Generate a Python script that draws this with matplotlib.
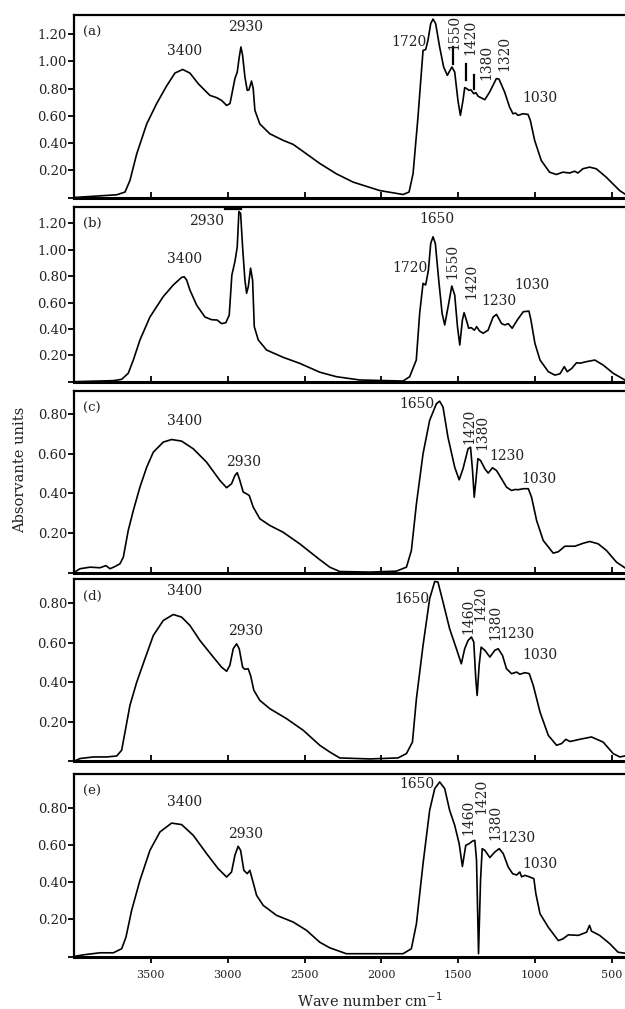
"""FTIR spectra, panels (a)-(e)."""
import matplotlib
matplotlib.use("Agg")
import matplotlib.pyplot as plt

plt.rcParams["font.family"] = "DejaVu Serif"

INK = "#222222"

# ── spectra (wavenumber cm-1, absorbance) ───────────────────────────────────
wn_a = [4000, 3722, 3668, 3636, 3592, 3527, 3462, 3397, 3343, 3293, 3246, 3192,
        3116, 3072, 3040, 3007, 2985, 2968, 2953, 2938, 2925, 2914, 2903, 2888,
        2873, 2862, 2845, 2834, 2823, 2791, 2726, 2640, 2574, 2487, 2401, 2293,
        2184, 2011, 1859, 1820, 1794, 1762, 1729, 1712, 1697, 1679, 1664, 1647,
        1621, 1595, 1571, 1556, 1541, 1523, 1502, 1486, 1469, 1458, 1446, 1430,
        1417, 1399, 1386, 1370, 1327, 1296, 1252, 1235, 1198, 1166, 1144, 1127,
        1111, 1079, 1046, 1031, 1003, 960, 906, 862, 819, 775, 743, 721, 689,
        646, 602, 537, 450, 418]
abs_a = [0.00, 0.02, 0.04, 0.125, 0.32, 0.54, 0.69, 0.82, 0.914, 0.94, 0.914, 0.836,
         0.75, 0.733, 0.713, 0.676, 0.69, 0.787, 0.873, 0.92, 1.03, 1.105, 1.044, 0.885,
         0.787, 0.79, 0.855, 0.80, 0.64, 0.54, 0.468, 0.42, 0.39, 0.32, 0.25, 0.174,
         0.113, 0.051, 0.022, 0.04, 0.174, 0.59, 1.08, 1.086, 1.154, 1.277, 1.31, 1.277,
         1.105, 0.958, 0.897, 0.929, 0.958, 0.921, 0.713, 0.603, 0.713, 0.807, 0.80, 0.787,
         0.79, 0.762, 0.77, 0.743, 0.718, 0.774, 0.873, 0.87, 0.774, 0.664, 0.615, 0.62,
         0.603, 0.615, 0.61, 0.566, 0.42, 0.272, 0.186, 0.169, 0.186, 0.18, 0.193, 0.18, 0.211,
         0.223, 0.211, 0.149, 0.051, 0.027]

wn_b = [4000, 3744, 3690, 3647, 3614, 3571, 3506, 3420, 3354, 3300, 3283, 3267,
        3246, 3202, 3148, 3105, 3068, 3040, 3012, 2990, 2973, 2953, 2938, 2927,
        2916, 2903, 2888, 2877, 2866, 2851, 2838, 2827, 2801, 2747, 2640, 2531,
        2401, 2293, 2141, 1859, 1816, 1773, 1751, 1729, 1712, 1694, 1679, 1664,
        1649, 1627, 1605, 1588, 1566, 1542, 1523, 1505, 1490, 1473, 1462, 1447,
        1432, 1416, 1395, 1380, 1362, 1338, 1306, 1273, 1251, 1218, 1196, 1175,
        1149, 1116, 1077, 1040, 1027, 1001, 968, 914, 871, 838, 810, 791, 762,
        730, 708, 665, 611, 557, 492, 416]
abs_b = [0.00, 0.008, 0.018, 0.064, 0.164, 0.316, 0.49, 0.644, 0.733, 0.79, 0.795, 0.77,
         0.695, 0.58, 0.49, 0.47, 0.467, 0.44, 0.447, 0.505, 0.808, 0.91, 1.02, 1.29,
         1.275, 1.02, 0.77, 0.67, 0.72, 0.86, 0.77, 0.417, 0.316, 0.24, 0.185, 0.139,
         0.072, 0.038, 0.013, 0.005, 0.038, 0.164, 0.518, 0.745, 0.733, 0.846, 1.048, 1.098,
         1.048, 0.77, 0.518, 0.43, 0.568, 0.725, 0.657, 0.417, 0.278, 0.467, 0.523, 0.467,
         0.405, 0.41, 0.39, 0.417, 0.385, 0.367, 0.39, 0.49, 0.51, 0.44, 0.43, 0.44,
         0.405, 0.467, 0.53, 0.535, 0.467, 0.29, 0.164, 0.076, 0.05, 0.06, 0.114, 0.076, 0.10,
         0.144, 0.14, 0.152, 0.164, 0.126, 0.064, 0.013]

wn_c = [4000, 3961, 3896, 3831, 3792, 3766, 3734, 3701, 3679, 3647, 3614, 3571,
        3527, 3484, 3419, 3365, 3300, 3224, 3137, 3051, 3007, 2975, 2953, 2938,
        2921, 2899, 2877, 2860, 2834, 2791, 2726, 2640, 2531, 2401, 2336, 2271,
        2076, 1902, 1837, 1805, 1772, 1729, 1686, 1642, 1621, 1599, 1567, 1523,
        1494, 1469, 1436, 1420, 1407, 1396, 1385, 1372, 1355, 1327, 1305, 1277,
        1251, 1218, 1186, 1153, 1131, 1109, 1077, 1044, 1023, 990, 947, 882, 849,
        806, 741, 687, 644, 589, 535, 470, 416]
abs_c = [0.00, 0.019, 0.027, 0.024, 0.035, 0.019, 0.03, 0.044, 0.078, 0.213, 0.314, 0.432,
         0.533, 0.609, 0.66, 0.673, 0.665, 0.626, 0.558, 0.466, 0.429, 0.449, 0.491, 0.505,
         0.466, 0.407, 0.398, 0.39, 0.331, 0.272, 0.238, 0.204, 0.145, 0.065, 0.027, 0.005,
         0.002, 0.007, 0.027, 0.111, 0.348, 0.601, 0.77, 0.854, 0.867, 0.837, 0.685, 0.533,
         0.469, 0.525, 0.626, 0.634, 0.516, 0.381, 0.466, 0.576, 0.567, 0.525, 0.503, 0.53,
         0.516, 0.474, 0.432, 0.415, 0.42, 0.419, 0.424, 0.424, 0.381, 0.263, 0.162, 0.098, 0.105,
         0.133, 0.133, 0.148, 0.157, 0.145, 0.111, 0.052, 0.024]

wn_d = [4000, 3961, 3874, 3787, 3722, 3690, 3668, 3636, 3592, 3538, 3484, 3419,
        3354, 3300, 3246, 3181, 3094, 3040, 3007, 2986, 2964, 2942, 2925, 2903,
        2888, 2867, 2851, 2830, 2791, 2726, 2618, 2509, 2401, 2336, 2271, 2076,
        1892, 1837, 1798, 1772, 1729, 1686, 1653, 1632, 1599, 1556, 1512, 1480,
        1458, 1436, 1414, 1399, 1386, 1377, 1364, 1351, 1327, 1294, 1262, 1240,
        1212, 1186, 1153, 1120, 1099, 1066, 1038, 1012, 968, 914, 860, 827, 800,
        773, 710, 633, 557, 492, 449, 416]
abs_d = [0.00, 0.014, 0.022, 0.022, 0.027, 0.056, 0.148, 0.283, 0.40, 0.519, 0.636, 0.712,
         0.742, 0.729, 0.687, 0.611, 0.527, 0.476, 0.455, 0.485, 0.569, 0.594, 0.569, 0.476,
         0.465, 0.468, 0.434, 0.359, 0.308, 0.266, 0.216, 0.157, 0.081, 0.047, 0.017, 0.012,
         0.017, 0.039, 0.097, 0.317, 0.586, 0.822, 0.909, 0.906, 0.805, 0.67, 0.569, 0.493,
         0.569, 0.611, 0.628, 0.603, 0.418, 0.333, 0.485, 0.577, 0.561, 0.527, 0.561, 0.569,
         0.535, 0.468, 0.443, 0.451, 0.44, 0.448, 0.443, 0.384, 0.249, 0.131, 0.081, 0.09, 0.111,
         0.10, 0.111, 0.123, 0.097, 0.039, 0.022, 0.027]

wn_e = [4000, 3940, 3831, 3744, 3690, 3662, 3625, 3571, 3506, 3441, 3365, 3300,
        3224, 3137, 3062, 3007, 2975, 2953, 2932, 2916, 2895, 2873, 2856, 2838,
        2812, 2769, 2682, 2574, 2487, 2401, 2336, 2228, 1859, 1805, 1772, 1729,
        1686, 1653, 1621, 1588, 1556, 1523, 1494, 1473, 1451, 1429, 1407, 1392,
        1381, 1368, 1355, 1344, 1327, 1294, 1262, 1233, 1207, 1175, 1146, 1120,
        1099, 1088, 1066, 1034, 1008, 995, 968, 914, 849, 819, 784, 719, 665, 646,
        633, 580, 514, 460, 416]
abs_e = [0.00, 0.009, 0.02, 0.02, 0.042, 0.104, 0.249, 0.411, 0.573, 0.672, 0.72, 0.712,
         0.654, 0.555, 0.474, 0.429, 0.456, 0.546, 0.595, 0.573, 0.465, 0.447, 0.465, 0.411,
         0.33, 0.276, 0.222, 0.186, 0.141, 0.077, 0.047, 0.015, 0.015, 0.042, 0.177, 0.501,
         0.789, 0.906, 0.942, 0.906, 0.789, 0.708, 0.609, 0.486, 0.60, 0.609, 0.623, 0.627,
         0.519, 0.015, 0.411, 0.582, 0.573, 0.534, 0.564, 0.582, 0.555, 0.483, 0.447, 0.44,
         0.456, 0.43, 0.438, 0.429, 0.42, 0.339, 0.231, 0.158, 0.086, 0.095, 0.117, 0.114, 0.131, 0.168,
         0.137, 0.114, 0.069, 0.023, 0.018]

# band labels: (text, wavenumber, absorbance, rotation)
labels_a = [("3400", 3278, 1.076, 0), ("2930", 2887, 1.252, 0), ("1720", 1818, 1.142, 0),
            ("1550", 1526, 1.215, 90), ("1420", 1424, 1.173, 90), ("1380", 1315, 0.995, 90),
            ("1320", 1202, 1.057, 90), ("1030", 968, 0.73, 0)]
labels_b = [("3400", 3278, 0.927, 0), ("2930", 3137, 1.22, 0), ("1650", 1640, 1.23, 0),
            ("1720", 1814, 0.859, 0), ("1550", 1536, 0.909, 90), ("1420", 1413, 0.758, 90),
            ("1230", 1235, 0.614, 0), ("1030", 1018, 0.733, 0)]
labels_c = [("3400", 3282, 0.766, 0), ("2930", 2898, 0.558, 0), ("1650", 1766, 0.854, 0),
            ("1420", 1428, 0.74, 90), ("1380", 1341, 0.71, 90), ("1230", 1185, 0.592, 0),
            ("1030", 975, 0.471, 0)]
labels_d = [("3400", 3278, 0.86, 0), ("2930", 2887, 0.658, 0), ("1650", 1799, 0.822, 0),
            ("1460", 1435, 0.733, 90), ("1420", 1354, 0.80, 90), ("1380", 1261, 0.70, 90),
            ("1230", 1116, 0.645, 0), ("1030", 968, 0.535, 0)]
labels_e = [("3400", 3278, 0.834, 0), ("2930", 2887, 0.663, 0), ("1650", 1770, 0.93, 0),
            ("1460", 1435, 0.753, 90), ("1420", 1348, 0.866, 90), ("1380", 1261, 0.726, 90),
            ("1230", 1109, 0.642, 0), ("1030", 968, 0.497, 0)]

# short leader marks (wavenumber, absorbance from, absorbance to)
marks_a = [(1536, 1.105, 0.983), (1450, 0.983, 0.86), (1400, 0.897, 0.80)]

panel_tags = ["(a)", "(b)", "(c)", "(d)", "(e)"]
spectra = [(wn_a, abs_a), (wn_b, abs_b), (wn_c, abs_c), (wn_d, abs_d), (wn_e, abs_e)]
all_labels = [labels_a, labels_b, labels_c, labels_d, labels_e]
ytops = [1.34, 1.326, 0.92, 0.92, 0.985]
yticks_big = [0, 0.2, 0.4, 0.6, 0.8, 1.0, 1.2]
yticks_small = [0, 0.2, 0.4, 0.6, 0.8]

# axes boxes in pixels (top, bottom) on a 625 x 1009 canvas
W, H = 625, 1009
boxes = [(15, 197.5), (206.7, 381.7), (390.7, 572.5), (579.3, 761.3), (774, 956.5)]
LEFT = 74

fig = plt.figure(figsize=(W / 100, H / 100), dpi=100)

for i, (top, bot) in enumerate(boxes):
    ax = fig.add_axes([LEFT / W, 1 - bot / H, (W - LEFT) / W, (bot - top) / H])
    wn, ab = spectra[i]
    ax.plot(wn, ab, color="black", lw=1.2, solid_joinstyle="round")
    ax.set_xlim(4000, 415)
    ax.set_ylim(0, ytops[i])

    yt = yticks_big if i < 2 else yticks_small
    ax.set_yticks(yt)
    ax.set_yticklabels(["" if v == 0 else f"{v:.2f}" for v in yt])
    ax.set_xticks([3500, 3000, 2500, 2000, 1500, 1000, 500])

    for s in ["left", "top"]:
        ax.spines[s].set_linewidth(1.6)
    ax.spines["bottom"].set_linewidth(2.2)
    ax.spines["right"].set_visible(False)

    ax.tick_params(axis="y", direction="out", length=4, width=1.3,
                   labelsize=9.5, labelcolor=INK, pad=1)
    if i < 4:
        ax.tick_params(axis="x", direction="in", length=4, width=1.3, labelbottom=False)
    else:
        ax.tick_params(axis="x", direction="out", length=4, width=1.3,
                       labelsize=8, labelcolor=INK, pad=6)

    ax.text(3940, ytops[i] * 0.905, panel_tags[i], fontsize=9.5, color=INK,
            ha="left", va="center")
    for txt, x, y, rot in all_labels[i]:
        ax.text(x, y, txt, fontsize=10, color=INK, ha="center", va="center", rotation=rot)

    if i == 0:
        for x, y0, y1 in marks_a:
            ax.plot([x, x], [y0, y1], color="black", lw=1.6)
    if i == 1:
        ax.plot([3018, 2915], [1.306, 1.306], color="black", lw=1.6)

fig.text(370 / W, 1 - 1001 / H, "Wave number cm$^{-1}$", fontsize=10.5, color=INK,
         ha="center", va="center")
fig.text(20 / W, 1 - 470 / H, "Absorvante units", fontsize=10.5, color=INK,
         ha="center", va="center", rotation=90)

fig.savefig("out.png", dpi=100)
